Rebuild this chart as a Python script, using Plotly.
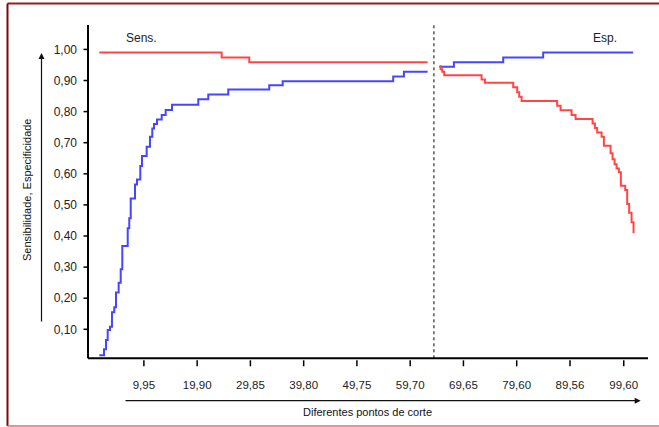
import plotly.graph_objects as go

# ---- data ----
tick_vals = [9.95, 19.90, 29.85, 39.80, 49.75, 59.70, 69.65, 79.60, 89.56, 99.60]
tick_text = ["9,95", "19,90", "29,85", "39,80", "49,75", "59,70", "69,65", "79,60", "89,56", "99,60"]
y_tick_vals = [0.1, 0.2, 0.3, 0.4, 0.5, 0.6, 0.7, 0.8, 0.9, 1.0]
y_tick_text = ["0,10", "0,20", "0,30", "0,40", "0,50", "0,60", "0,70", "0,80", "0,90", "1,00"]

# left block (Sens.)
sens_blue_x = [1.62, 2.50, 2.87, 3.19, 3.62, 3.99, 4.42, 4.74, 5.24, 5.62, 5.92, 6.93, 7.22, 7.49,
               8.29, 8.66, 9.28, 9.60, 10.47, 11.09, 11.52, 11.84, 12.40, 13.28, 14.02, 15.20,
               20.11, 21.98, 25.71, 33.37, 35.88, 56.53, 58.53, 62.96]
sens_blue_y = [0.017, 0.036, 0.066, 0.098, 0.108, 0.155, 0.171, 0.218, 0.250, 0.293, 0.368, 0.425,
               0.457, 0.521, 0.566, 0.582, 0.625, 0.657, 0.687, 0.719, 0.746, 0.760, 0.775, 0.789,
               0.805, 0.822, 0.840, 0.855, 0.871, 0.885, 0.898, 0.913, 0.928, 0.928]
sens_red_x = [1.62, 24.48, 29.64, 62.96]
sens_red_y = [0.990, 0.974, 0.959, 0.959]

# right block (Esp.)
esp_blue_x = [65.12, 67.87, 77.08, 84.55, 101.36]
esp_blue_y = [0.944, 0.959, 0.974, 0.990, 0.990]
esp_red_x = [65.26, 65.39, 65.69, 66.06, 73.04, 73.66, 78.95, 79.69, 80.07, 80.52, 87.16, 87.80,
             89.85, 90.60, 93.78, 94.21, 94.64, 95.46, 95.89, 97.14, 97.51, 97.89, 98.26, 98.69,
             99.06, 99.87, 100.24, 100.61, 101.06, 101.43]
esp_red_y = [0.946, 0.936, 0.928, 0.917, 0.903, 0.893, 0.878, 0.862, 0.848, 0.834, 0.819, 0.804,
             0.789, 0.776, 0.762, 0.747, 0.733, 0.719, 0.690, 0.666, 0.647, 0.631, 0.617, 0.605,
             0.562, 0.548, 0.503, 0.475, 0.444, 0.409]
divider_x = 64.14

# ---- geometry ----
W, H = 659, 427
# visible axes box (pixels) and its data extent
AX_L, AX_R, AX_T, AX_B = 88, 648, 25, 358.3
X_AX = [-0.49, 104.13]
Y_AX = [0.0068, 1.0785]
XS = (AX_R - AX_L) / (X_AX[1] - X_AX[0])   # px per x unit
YS = (AX_B - AX_T) / (Y_AX[1] - Y_AX[0])   # px per y unit

# the plotting area is made a little larger than the drawn axes box
ML, MR, MT, MB = 78, 3, 17, 57
PL, PR, PT, PB = ML, W - MR, MT, H - MB
X_RANGE = [X_AX[0] - (AX_L - PL) / XS, X_AX[1] + (PR - AX_R) / XS]
Y_RANGE = [Y_AX[0] - (PB - AX_B) / YS, Y_AX[1] + (AX_T - PT) / YS]
PW, PH = PR - PL, PB - PT


def px(xp):
    return (xp - PL) / PW


def py(yp):
    return (PB - yp) / PH


def dx(pixels):
    return pixels / XS


def dy(pixels):
    return pixels / YS


RED = "rgb(255,70,70)"
BLUE = "rgb(70,70,255)"
TXT = "#222222"
FONT = "Liberation Sans, Arial, sans-serif"

fig = go.Figure()
for xs, ys, c in [(sens_red_x, sens_red_y, RED), (sens_blue_x, sens_blue_y, BLUE),
                  (esp_blue_x, esp_blue_y, BLUE), (esp_red_x, esp_red_y, RED)]:
    fig.add_trace(go.Scatter(x=xs, y=ys, mode="lines", line=dict(color=c, width=2, shape="hv"),
                             showlegend=False))
# dotted divider between the two blocks
fig.add_trace(go.Scatter(x=[divider_x, divider_x], y=Y_AX, mode="lines",
                         line=dict(color="black", width=1, dash="dot"), showlegend=False))

# axis lines and tick marks, drawn from the axis extents and the tick values
ax_x, ax_y = [], []
ax_x += [X_AX[0], X_AX[0], None]; ax_y += [Y_AX[1], Y_AX[0], None]
ax_x += [X_AX[0], X_AX[1], None]; ax_y += [Y_AX[0], Y_AX[0], None]
fig.add_trace(go.Scatter(x=ax_x, y=ax_y, mode="lines", line=dict(color="black", width=2),
                         showlegend=False, hoverinfo="skip"))
tk_x, tk_y = [], []
for tv in tick_vals:
    tk_x += [tv, tv, None]; tk_y += [Y_AX[0] - dy(2), Y_AX[0] - dy(8), None]
for tv in y_tick_vals:
    tk_x += [X_AX[0] - dx(4.5), X_AX[0], None]; tk_y += [tv, tv, None]
fig.add_trace(go.Scatter(x=tk_x, y=tk_y, mode="lines", line=dict(color="black", width=1.5),
                         showlegend=False, hoverinfo="skip"))

fig.update_layout(
    width=W, height=H,
    margin=dict(l=ML, r=MR, t=MT, b=MB),
    paper_bgcolor="white", plot_bgcolor="white",
    font=dict(family=FONT, color=TXT, size=12),
    showlegend=False,
)
fig.update_xaxes(range=X_RANGE, tickmode="array", tickvals=tick_vals, ticktext=tick_text,
                 showgrid=False, zeroline=False, showline=False, ticks="",
                 tickfont=dict(size=11.5, color=TXT), ticklabelstandoff=6)
fig.update_yaxes(range=Y_RANGE, tickmode="array", tickvals=y_tick_vals, ticktext=y_tick_text,
                 showgrid=False, zeroline=False, showline=False, ticks="",
                 tickfont=dict(size=12, color=TXT), ticklabelstandoff=0)

# frame around the figure
fig.add_shape(type="line", xref="paper", yref="paper", x0=px(7.5), x1=px(W), y0=py(3.5), y1=py(3.5),
              line=dict(color="rgb(150,30,30)", width=2))
fig.add_shape(type="line", xref="paper", yref="paper", x0=px(7.5), x1=px(7.5), y0=py(3.5), y1=py(426),
              line=dict(color="rgb(120,10,10)", width=2))
fig.add_shape(type="line", xref="paper", yref="paper", x0=px(7.5), x1=px(W), y0=py(426), y1=py(426),
              line=dict(color="rgb(205,120,120)", width=1.5))

# arrows beside the axes
fig.add_annotation(xref="paper", yref="paper", x=px(41.5), y=py(53), ax=0, ay=270, text="",
                   showarrow=True, arrowhead=2, arrowsize=1, arrowwidth=1.2, arrowcolor="#111111",
                   standoff=0)
fig.add_annotation(xref="paper", yref="paper", x=px(640.7), y=py(400.7), ax=-516.7, ay=0, text="",
                   showarrow=True, arrowhead=2, arrowsize=1, arrowwidth=1.2, arrowcolor="#111111",
                   standoff=0)

# titles and labels
labels = [
    (27, 190, "Sensibilidade, Especificidade", -90, 11, "#111111"),
    (367.5, 412, "Diferentes pontos de corte", 0, 11, "#111111"),
    (141, 38, "Sens.", 0, 12, TXT),
    (604.7, 37.7, "Esp.", 0, 12, TXT),
]
for lx, ly, t, ang, sz, col in labels:
    fig.add_annotation(xref="paper", yref="paper", x=px(lx), y=py(ly), text=t, textangle=ang,
                       xanchor="center", yanchor="middle", showarrow=False,
                       font=dict(size=sz, color=col))

fig.write_html("out.html", config={"displayModeBar": False},
               post_script="document.body.style.margin='0';document.body.style.overflow='hidden';")
